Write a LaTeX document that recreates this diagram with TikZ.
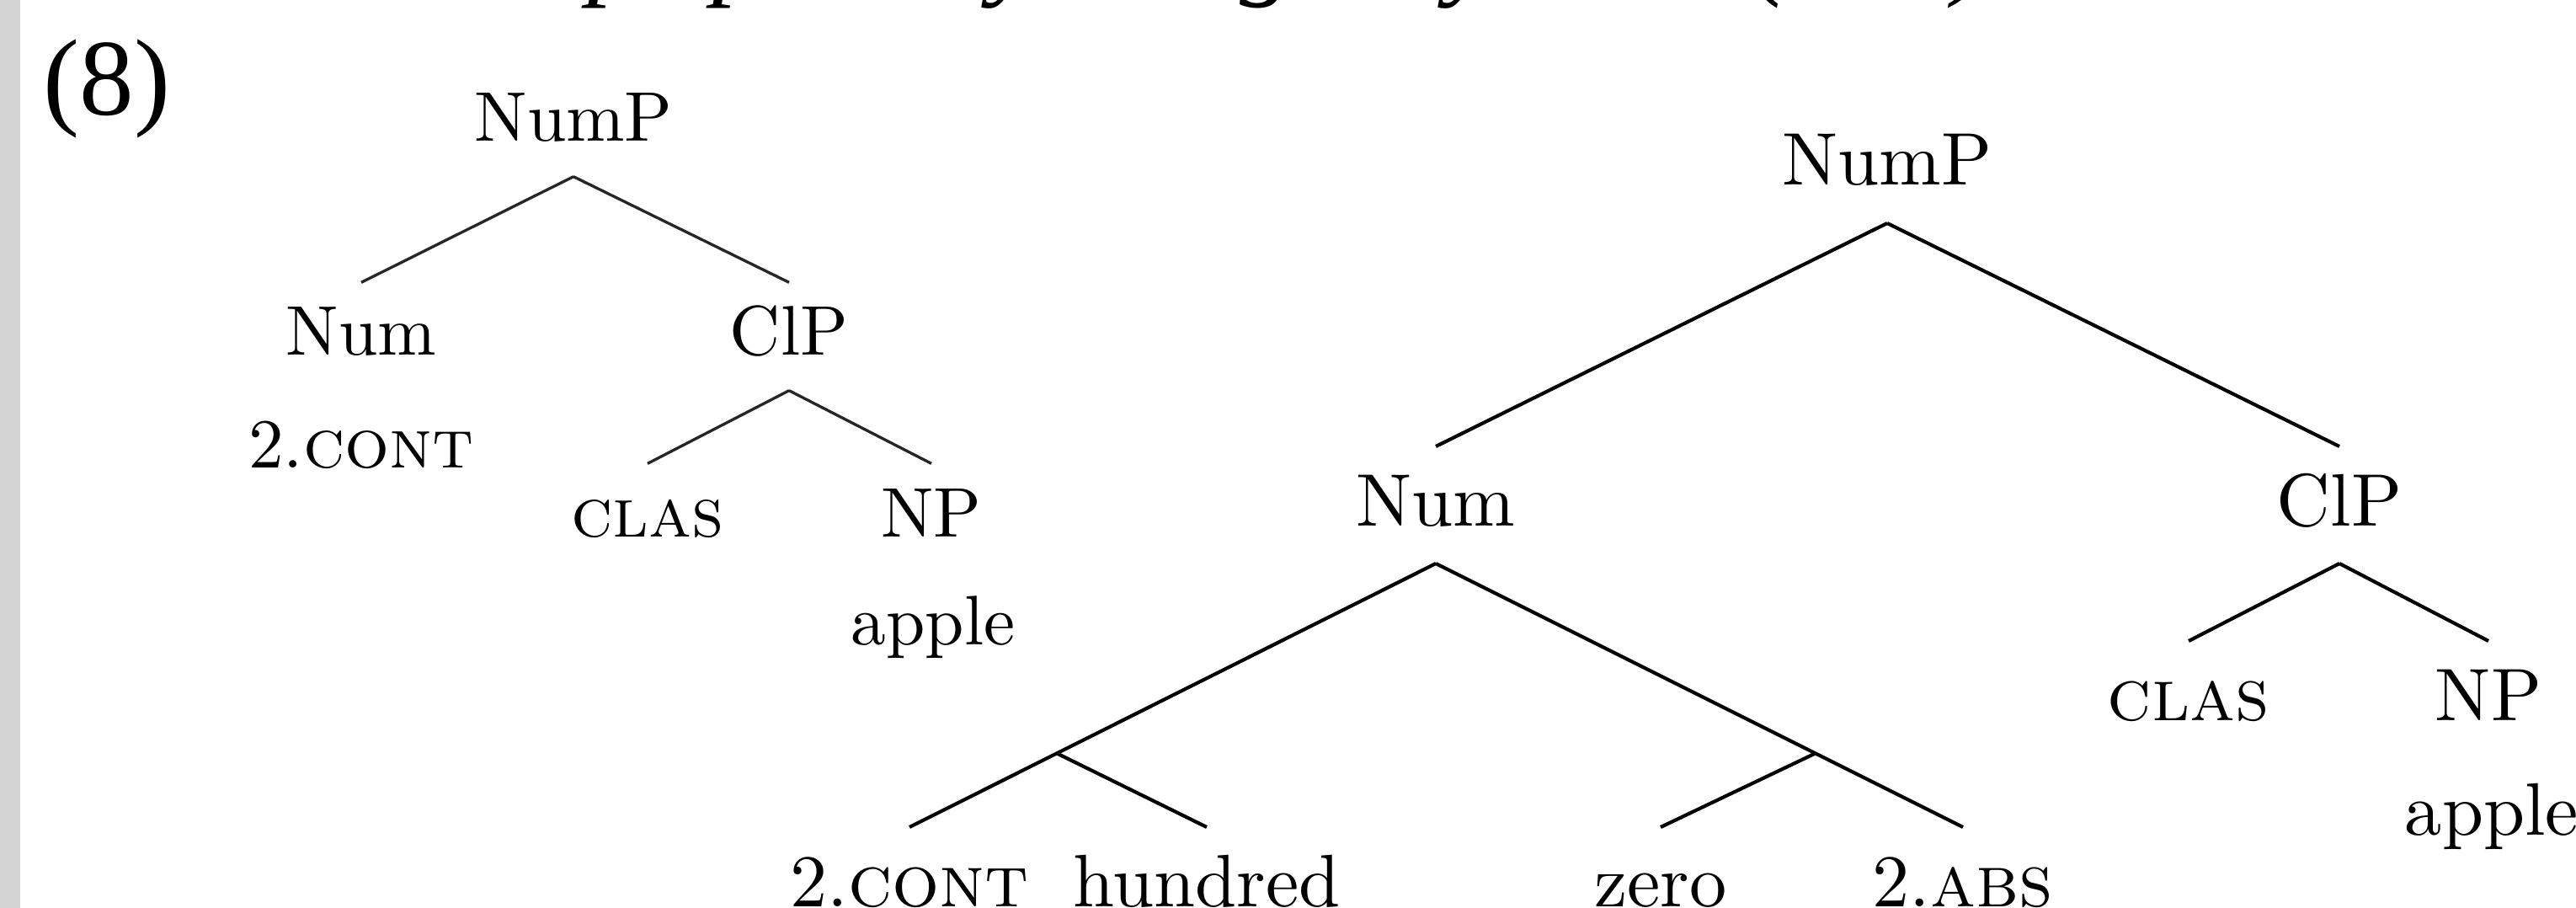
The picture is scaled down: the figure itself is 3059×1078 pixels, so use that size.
\documentclass[tikz,border=0pt]{standalone}
\usepackage{fontspec}
\newfontfamily\exfont{Liberation Serif}
\usetikzlibrary{calc}
\definecolor{marginGrey}{RGB}{212,212,212}
\begin{document}
\begin{tikzpicture}[x=0.12pt,y=-0.12pt,
  % left tree: 10pt labels
  lnode/.style={anchor=base, inner sep=0pt, outer sep=0pt,
    text height=10.4pt, text depth=5pt,
    font=\fontsize{10}{12}\selectfont},
  lword/.style={anchor=base, inner sep=0pt, font=\fontsize{10}{12}\selectfont},
  ledge/.style={line width=0.4pt, black!85},
  % right tree: slightly larger labels
  rnode/.style={anchor=base, inner sep=0pt, outer sep=0pt,
    text height=11.28pt, text depth=5.4pt,
    font=\fontsize{10.6}{13}\selectfont},
  rword/.style={anchor=base, inner sep=0pt, font=\fontsize{10.6}{13}\selectfont},
  redge/.style={line width=0.5pt, black},
  desc/.style={anchor=base west, inner sep=0pt,
    font=\exfont\itshape\fontsize{15.5}{18}\selectfont}
]
\useasboundingbox (0,0) rectangle (3059,1078);
\clip (0,0) rectangle (3059,1078);
\fill[white] (0,0) rectangle (3059,1078);
\fill[marginGrey] (0,0) rectangle (24,1078);

% descenders of the running line above the example
\node[desc] (d1) at (697,-17) {p};
\node[desc] (d2) at (845,-17) {p};
\node[desc] (d3) at (1175,-17) {y};
\node[desc] (d4) at (1471,-17) {g};
\node[desc] (d5) at (1717,-17) {y};
\node[desc] (d6) at (2080,-17) {(};
\node[desc] (d7) at (2318,-17) {)};

% example number
\node[anchor=base west, inner sep=0pt, font=\exfont\fontsize{15.5}{18}\selectfont]
  (exnum) at (50,137) {(8)};

% ---------- left tree ----------
\node[lnode] (lNumP) at (681,168) {NumP};
\node[lnode] (lNum)  at (429,422) {Num};
\node[lword] (lNumW) at (429,555) {2.\textsc{cont}};
\node[lnode] (lClP)  at (937,422) {ClP};
\node[lnode] (lClas) at (769,637) {\textsc{clas}};
\node[lnode] (lNP)   at (1106,637) {NP};
\node[lword] (lApple) at (1108,765) {apple};

\draw[ledge] (lNumP.south) -- (lNum.north);
\draw[ledge] (lNumP.south) -- (lClP.north);
\draw[ledge] (lClP.south) -- (lClas.north);
\draw[ledge] (lClP.south) -- (lNP.north);

% ---------- right tree ----------
\node[rnode] (rNumP) at (2241,220) {NumP};
\node[rnode] (rNum)  at (1705,624) {Num};
\node[rnode] (rClP)  at (2778,624) {ClP};
\node[rnode] (rCont) at (1080,1076) {2.\textsc{cont}};
\node[rnode] (rHund) at (1433,1076) {hundred};
\node[rnode] (rZero) at (1972,1076) {zero};
\node[rnode] (rAbs)  at (2331,1076) {2.\textsc{abs}};
\node[rnode] (rClas) at (2599,855) {\textsc{clas}};
\node[rnode] (rNP)   at (2955,855) {NP};
\node[rword] (rApple) at (2959,991) {apple};

% unlabeled branching points under Num
\coordinate (rbL) at ($(rNum.south)!0.72!(rCont.north)$);
\coordinate (rbR) at ($(rNum.south)!0.72!(rAbs.north)$);

\draw[redge] (rNumP.south) -- (rNum.north);
\draw[redge] (rNumP.south) -- (rClP.north);
\draw[redge] (rNum.south) -- (rbL) -- (rCont.north);
\draw[redge] (rbL) -- (rHund.north);
\draw[redge] (rNum.south) -- (rbR) -- (rAbs.north);
\draw[redge] (rbR) -- (rZero.north);
\draw[redge] (rClP.south) -- (rClas.north);
\draw[redge] (rClP.south) -- (rNP.north);
\end{tikzpicture}
\end{document}
